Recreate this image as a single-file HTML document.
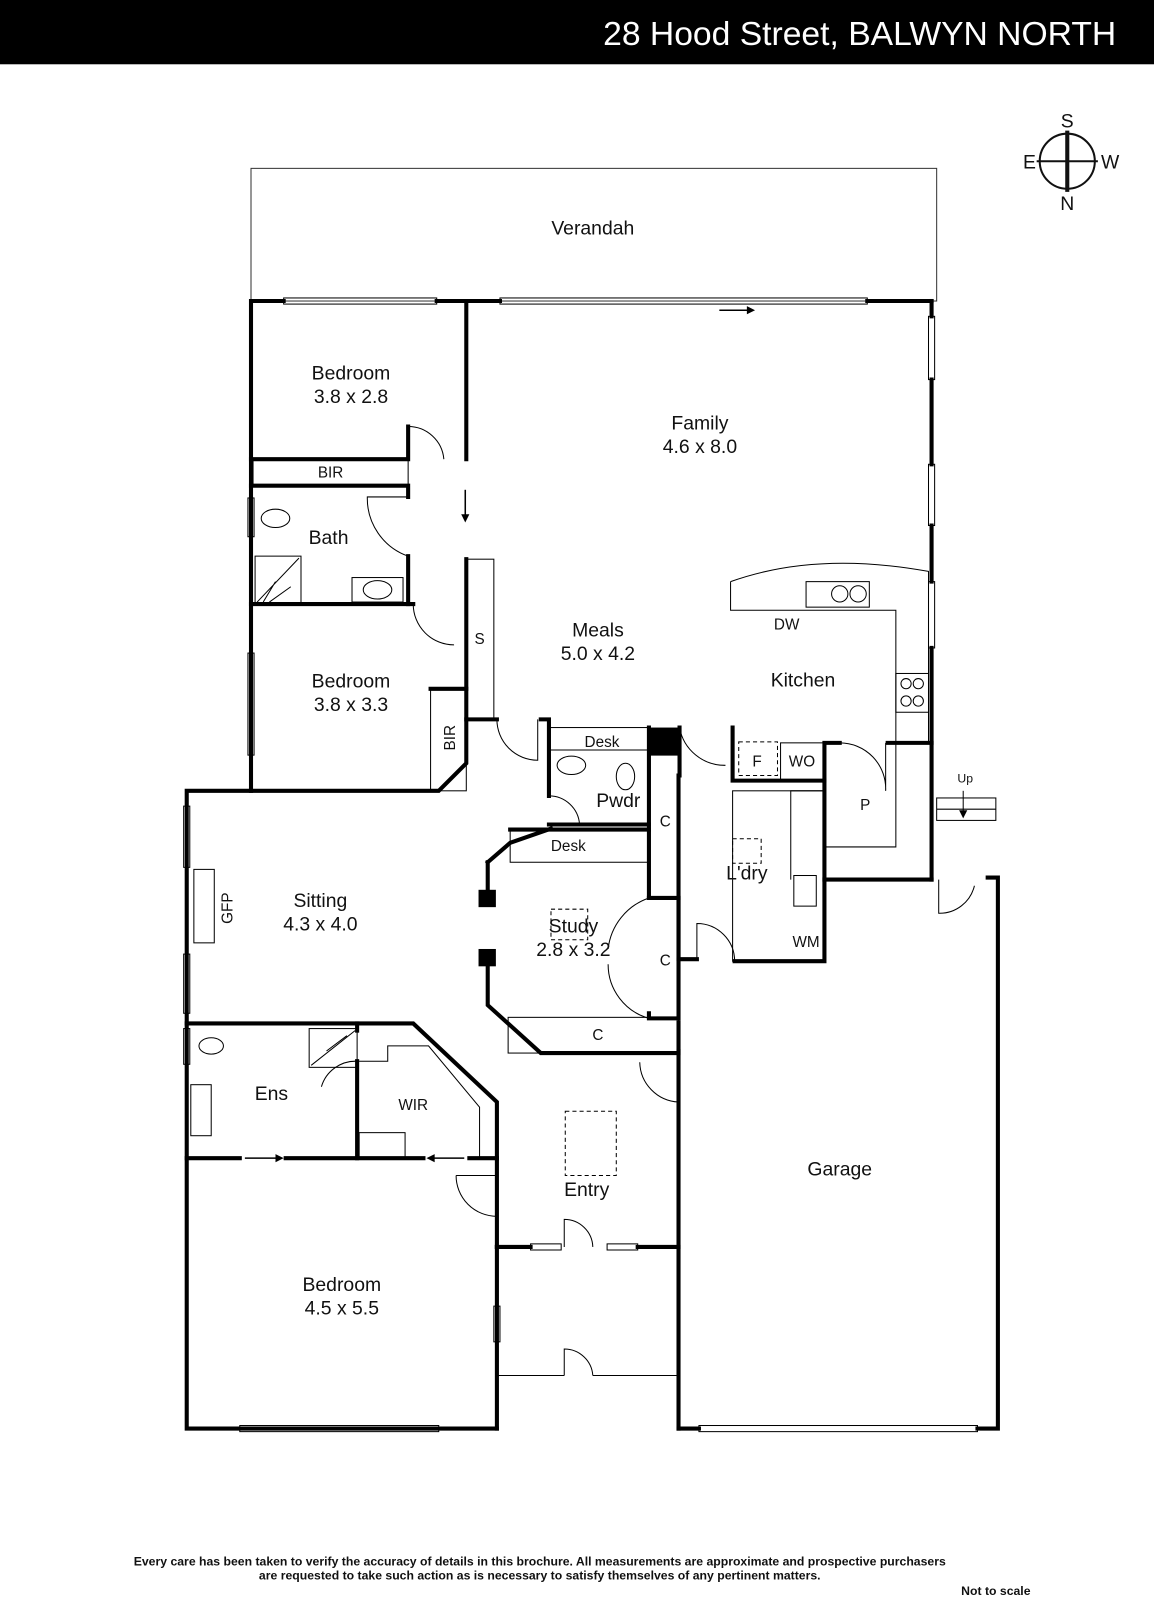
<!DOCTYPE html>
<html><head><meta charset="utf-8"><style>
html,body{margin:0;padding:0;background:#fff;width:1154px;height:1600px;overflow:hidden}
svg{display:block}
text{font-family:"Liberation Sans",sans-serif;fill:#111}
.l{font-size:19px;text-anchor:middle}
.s{font-size:15px;text-anchor:middle}
</style></head><body>
<svg width="1154" height="1600" viewBox="0 0 1131 1568" preserveAspectRatio="none" xmlns="http://www.w3.org/2000/svg">
<rect x="0" y="0" width="1131" height="63" fill="#000"/>
<text x="1094" y="44" style="font-size:33px;fill:#fff;text-anchor:end">28 Hood Street, BALWYN NORTH</text>
<g stroke="#111" fill="none" stroke-width="2"><circle cx="1046" cy="158" r="27"/><line x1="1046" y1="128" x2="1046" y2="188" stroke-width="4"/><line x1="1016" y1="158" x2="1076" y2="158"/></g>
<text x="1046" y="125" class="l">S</text><text x="1046" y="206" class="l">N</text><text x="1009" y="165" class="l">E</text><text x="1088" y="165" class="l">W</text>
<rect x="246" y="165" width="672" height="130" fill="none" stroke="#333" stroke-width="1"/>
<g fill="none" stroke="#000" stroke-width="4" stroke-linecap="square">
<polyline points="278,295 246,295 246,775 183,775 183,1400 487,1400"/>
<line x1="428" y1="295" x2="490" y2="295"/><line x1="850" y1="295" x2="913" y2="295"/>
<polyline points="913,295 913,310"/><line x1="913" y1="372" x2="913" y2="455"/><line x1="913" y1="515" x2="913" y2="570"/><line x1="913" y1="635" x2="913" y2="862"/>
<polyline points="913,862 808,862 808,942 720,942"/>
<polyline points="665,1400 665,1030"/><polyline points="665,1400 685,1400"/><polyline points="958,1400 978,1400 978,860 968,860"/>
<polyline points="487,1222 487,1400"/><line x1="487" y1="1222" x2="520" y2="1222"/><line x1="625" y1="1222" x2="665" y2="1222"/>
<line x1="487" y1="1222" x2="487" y2="1135"/>
<polyline points="457,295 457,450"/><polyline points="246,450 400,450 400,418"/>
<polyline points="246,476 400,476 400,487"/><line x1="400" y1="545" x2="400" y2="592"/>
<polyline points="246,592 405,592"/>
<polyline points="457,548 457,705 487,705"/>
<polyline points="246,775 430,775 457,748 457,705"/>
<polyline points="422,675 457,675"/>
<polyline points="530,705 538,705 538,780"/>
<polyline points="538,808 636,808 636,880"/>
<line x1="636" y1="713" x2="636" y2="808"/>
<line x1="666" y1="713" x2="666" y2="760"/>
<polyline points="478,845 500,826 540,812"/>
<polyline points="500,813 636,813"/>
<polyline points="478,845 478,875"/><polyline points="478,945 478,985 530,1032 665,1032 665,1002"/>
<polyline points="636,880 665,880 665,998 636,998 636,993"/>
<line x1="665" y1="880" x2="665" y2="940"/><line x1="665" y1="940" x2="683" y2="940"/><line x1="665" y1="760" x2="665" y2="880"/>
<polyline points="718,713 718,765 808,765"/>
<polyline points="808,765 808,728 823,728"/>
<polyline points="870,728 913,728"/>
<polyline points="808,765 808,862"/>
<polyline points="183,1003 405,1003 487,1080 487,1135"/>
<polyline points="183,1135 235,1135"/><polyline points="280,1135 415,1135"/><polyline points="460,1135 487,1135"/>
<polyline points="350,1040 350,1135"/>
<polyline points="350,1003 350,1010"/>
</g>
<g stroke="#000" stroke-width="1" fill="none">
<rect x="278" y="292" width="150" height="6"/><rect x="490" y="292" width="360" height="6"/>
<rect x="910" y="310" width="6" height="62"/><rect x="910" y="455" width="6" height="60"/><rect x="910" y="570" width="6" height="65"/>
<rect x="243" y="640" width="6" height="100"/><rect x="243" y="488" width="6" height="38"/>
<rect x="180" y="790" width="6" height="60"/><rect x="180" y="935" width="6" height="58"/><rect x="180" y="1008" width="6" height="35"/>
<rect x="484" y="1280" width="6" height="35"/><rect x="235" y="1397" width="195" height="6"/><rect x="685" y="1397" width="273" height="6"/>
<rect x="520" y="1219" width="30" height="6"/><rect x="595" y="1219" width="30" height="6"/>
<line x1="487" y1="1348" x2="553" y2="1348"/><line x1="581" y1="1348" x2="665" y2="1348"/>
<path d="M400,418 A35,35 0 0 1 435,450"/><path d="M400,545 A60,60 0 0 1 360,487 L400,487"/>
<path d="M405,592 A40,40 0 0 0 445,632"/>
<path d="M487,705 A40,40 0 0 0 527,745 L527,705"/>
<path d="M538,780 A30,30 0 0 1 568,808"/>
<path d="M666,713 A45,45 0 0 0 711,750"/>
<path d="M823,728 A45,45 0 0 1 868,775 L868,728"/>
<path d="M636,880 A60,60 0 0 0 596,930 M636,998 A55,55 0 0 1 596,945"/>
<path d="M683,940 L683,905 A37,37 0 0 1 720,942"/>
<path d="M627,1041 A40,40 0 0 0 665,1080"/>
<path d="M447,1152 A40,40 0 0 0 487,1192 M447,1152 L487,1152"/>
<path d="M553,1222 L553,1195 A28,28 0 0 1 581,1222"/><path d="M553,1348 L553,1322 A28,28 0 0 1 581,1348"/>
<path d="M315,1065 A35,35 0 0 1 350,1040"/>
<path d="M920,862 L920,895 A35,35 0 0 0 955,868"/>
<rect x="458" y="548" width="26" height="157"/>
<rect x="422" y="675" width="35" height="100"/>
<rect x="248" y="450" width="152" height="26"/>
<rect x="538" y="713" width="98" height="22"/>
<rect x="500" y="813" width="136" height="32"/>
<rect x="636" y="740" width="30" height="140"/>
<rect x="498" y="997" width="167" height="35"/>
<path d="M716,570 Q800,540 910,560 L910,728 L878,728 L878,830 L808,830 L808,775 L775,775 L775,862 M716,570 L716,598 L878,598 L878,728"/>
<rect x="718" y="775" width="90" height="167"/>
<rect x="790" y="570" width="62" height="25"/><circle cx="823" cy="582" r="8"/><circle cx="841" cy="582" r="8"/>
<rect x="878" y="660" width="32" height="38"/><circle cx="888" cy="670" r="5"/><circle cx="900" cy="670" r="5"/><circle cx="888" cy="687" r="5"/><circle cx="900" cy="687" r="5"/>
<rect x="778" y="858" width="22" height="30"/><rect x="765" y="728" width="43" height="37"/>
<ellipse cx="270" cy="508" rx="14" ry="9"/><ellipse cx="370" cy="578" rx="14" ry="9"/><rect x="345" y="566" width="50" height="24"/>
<polygon points="250,545 295,545 295,592 250,592" />
<path d="M252,590 L293,547 M258,590 L270,570 M264,590 L285,575"/>
<ellipse cx="560" cy="750" rx="14" ry="9"/><ellipse cx="613" cy="761" rx="9" ry="13"/>
<ellipse cx="207" cy="1025" rx="12" ry="8"/><rect x="187" y="1063" width="20" height="50"/>
<rect x="303" y="1008" width="47" height="38"/><path d="M305,1044 L348,1010 M320,1030 L340,1015"/><rect x="352" y="1110" width="45" height="25"/>
<path d="M350,1040 L380,1040 L380,1025 L420,1025 L470,1085 L470,1135"/>
<rect x="190" y="852" width="20" height="72"/>
<rect x="918" y="782" width="58" height="22"/><line x1="918" y1="793" x2="976" y2="793"/>
<line x1="944" y1="775" x2="944" y2="800"/>
</g>
<g fill="#000"><rect x="636" y="713" width="30" height="27"/><rect x="469" y="872" width="17" height="17"/><rect x="469" y="930" width="17" height="17"/>
<path d="M456,512 l-4,-8 h8z"/><path d="M740,304 l-8,-4 v8z"/><path d="M278,1135 l-8,-4 v8z"/><path d="M418,1135 l8,-4 v8z"/><path d="M944,802 l-4,-8 h8z"/></g>
<g stroke="#000" stroke-width="1.5"><line x1="456" y1="480" x2="456" y2="508"/><line x1="705" y1="304" x2="735" y2="304"/><line x1="240" y1="1135" x2="272" y2="1135"/><line x1="425" y1="1135" x2="455" y2="1135"/></g>
<g stroke="#000" stroke-width="1" fill="none" stroke-dasharray="4,3">
<rect x="724" y="727" width="38" height="33"/><rect x="718" y="822" width="28" height="24"/><rect x="540" y="891" width="36" height="30"/><rect x="554" y="1089" width="50" height="63"/>
</g>
<text x="581" y="230" class="l">Verandah</text>
<text x="344" y="372" class="l">Bedroom</text><text x="344" y="395" class="l">3.8 x 2.8</text>
<text x="686" y="421" class="l">Family</text><text x="686" y="444" class="l">4.6 x 8.0</text>
<text x="324" y="468" class="s">BIR</text><text x="322" y="533" class="l">Bath</text>
<text x="586" y="624" class="l">Meals</text><text x="586" y="647" class="l">5.0 x 4.2</text>
<text x="470" y="631" class="s">S</text><text x="771" y="617" class="s">DW</text>
<text x="787" y="673" class="l">Kitchen</text>
<text x="344" y="674" class="l">Bedroom</text><text x="344" y="697" class="l">3.8 x 3.3</text>
<text x="446" y="723" class="s" transform="rotate(-90 446 723)">BIR</text>
<text x="590" y="732" class="s">Desk</text><text x="742" y="751" class="s">F</text><text x="786" y="751" class="s">WO</text>
<text x="606" y="791" class="l">Pwdr</text><text x="652" y="810" class="s">C</text><text x="848" y="794" class="s">P</text>
<text x="946" y="767" style="font-size:12px;text-anchor:middle">Up</text>
<text x="557" y="834" class="s">Desk</text><text x="732" y="862" class="l">L'dry</text>
<text x="314" y="889" class="l">Sitting</text><text x="314" y="912" class="l">4.3 x 4.0</text>
<text x="228" y="890" class="s" transform="rotate(-90 228 890)">GFP</text>
<text x="562" y="914" class="l">Study</text><text x="562" y="937" class="l">2.8 x 3.2</text>
<text x="652" y="946" class="s">C</text><text x="790" y="928" class="s">WM</text><text x="586" y="1019" class="s">C</text>
<text x="266" y="1078" class="l">Ens</text><text x="405" y="1088" class="s">WIR</text>
<text x="823" y="1152" class="l">Garage</text><text x="575" y="1172" class="l">Entry</text>
<text x="335" y="1265" class="l">Bedroom</text><text x="335" y="1288" class="l">4.5 x 5.5</text>
<text x="529" y="1534" style="font-size:12px;font-weight:bold;text-anchor:middle">Every care has been taken to verify the accuracy of details in this brochure.  All measurements are approximate and prospective purchasers</text>
<text x="529" y="1548" style="font-size:12px;font-weight:bold;text-anchor:middle">are requested to take such action as is necessary to satisfy themselves of any pertinent matters.</text>
<text x="976" y="1563" style="font-size:12px;font-weight:bold;text-anchor:middle">Not to scale</text>
</svg>
</body></html>
